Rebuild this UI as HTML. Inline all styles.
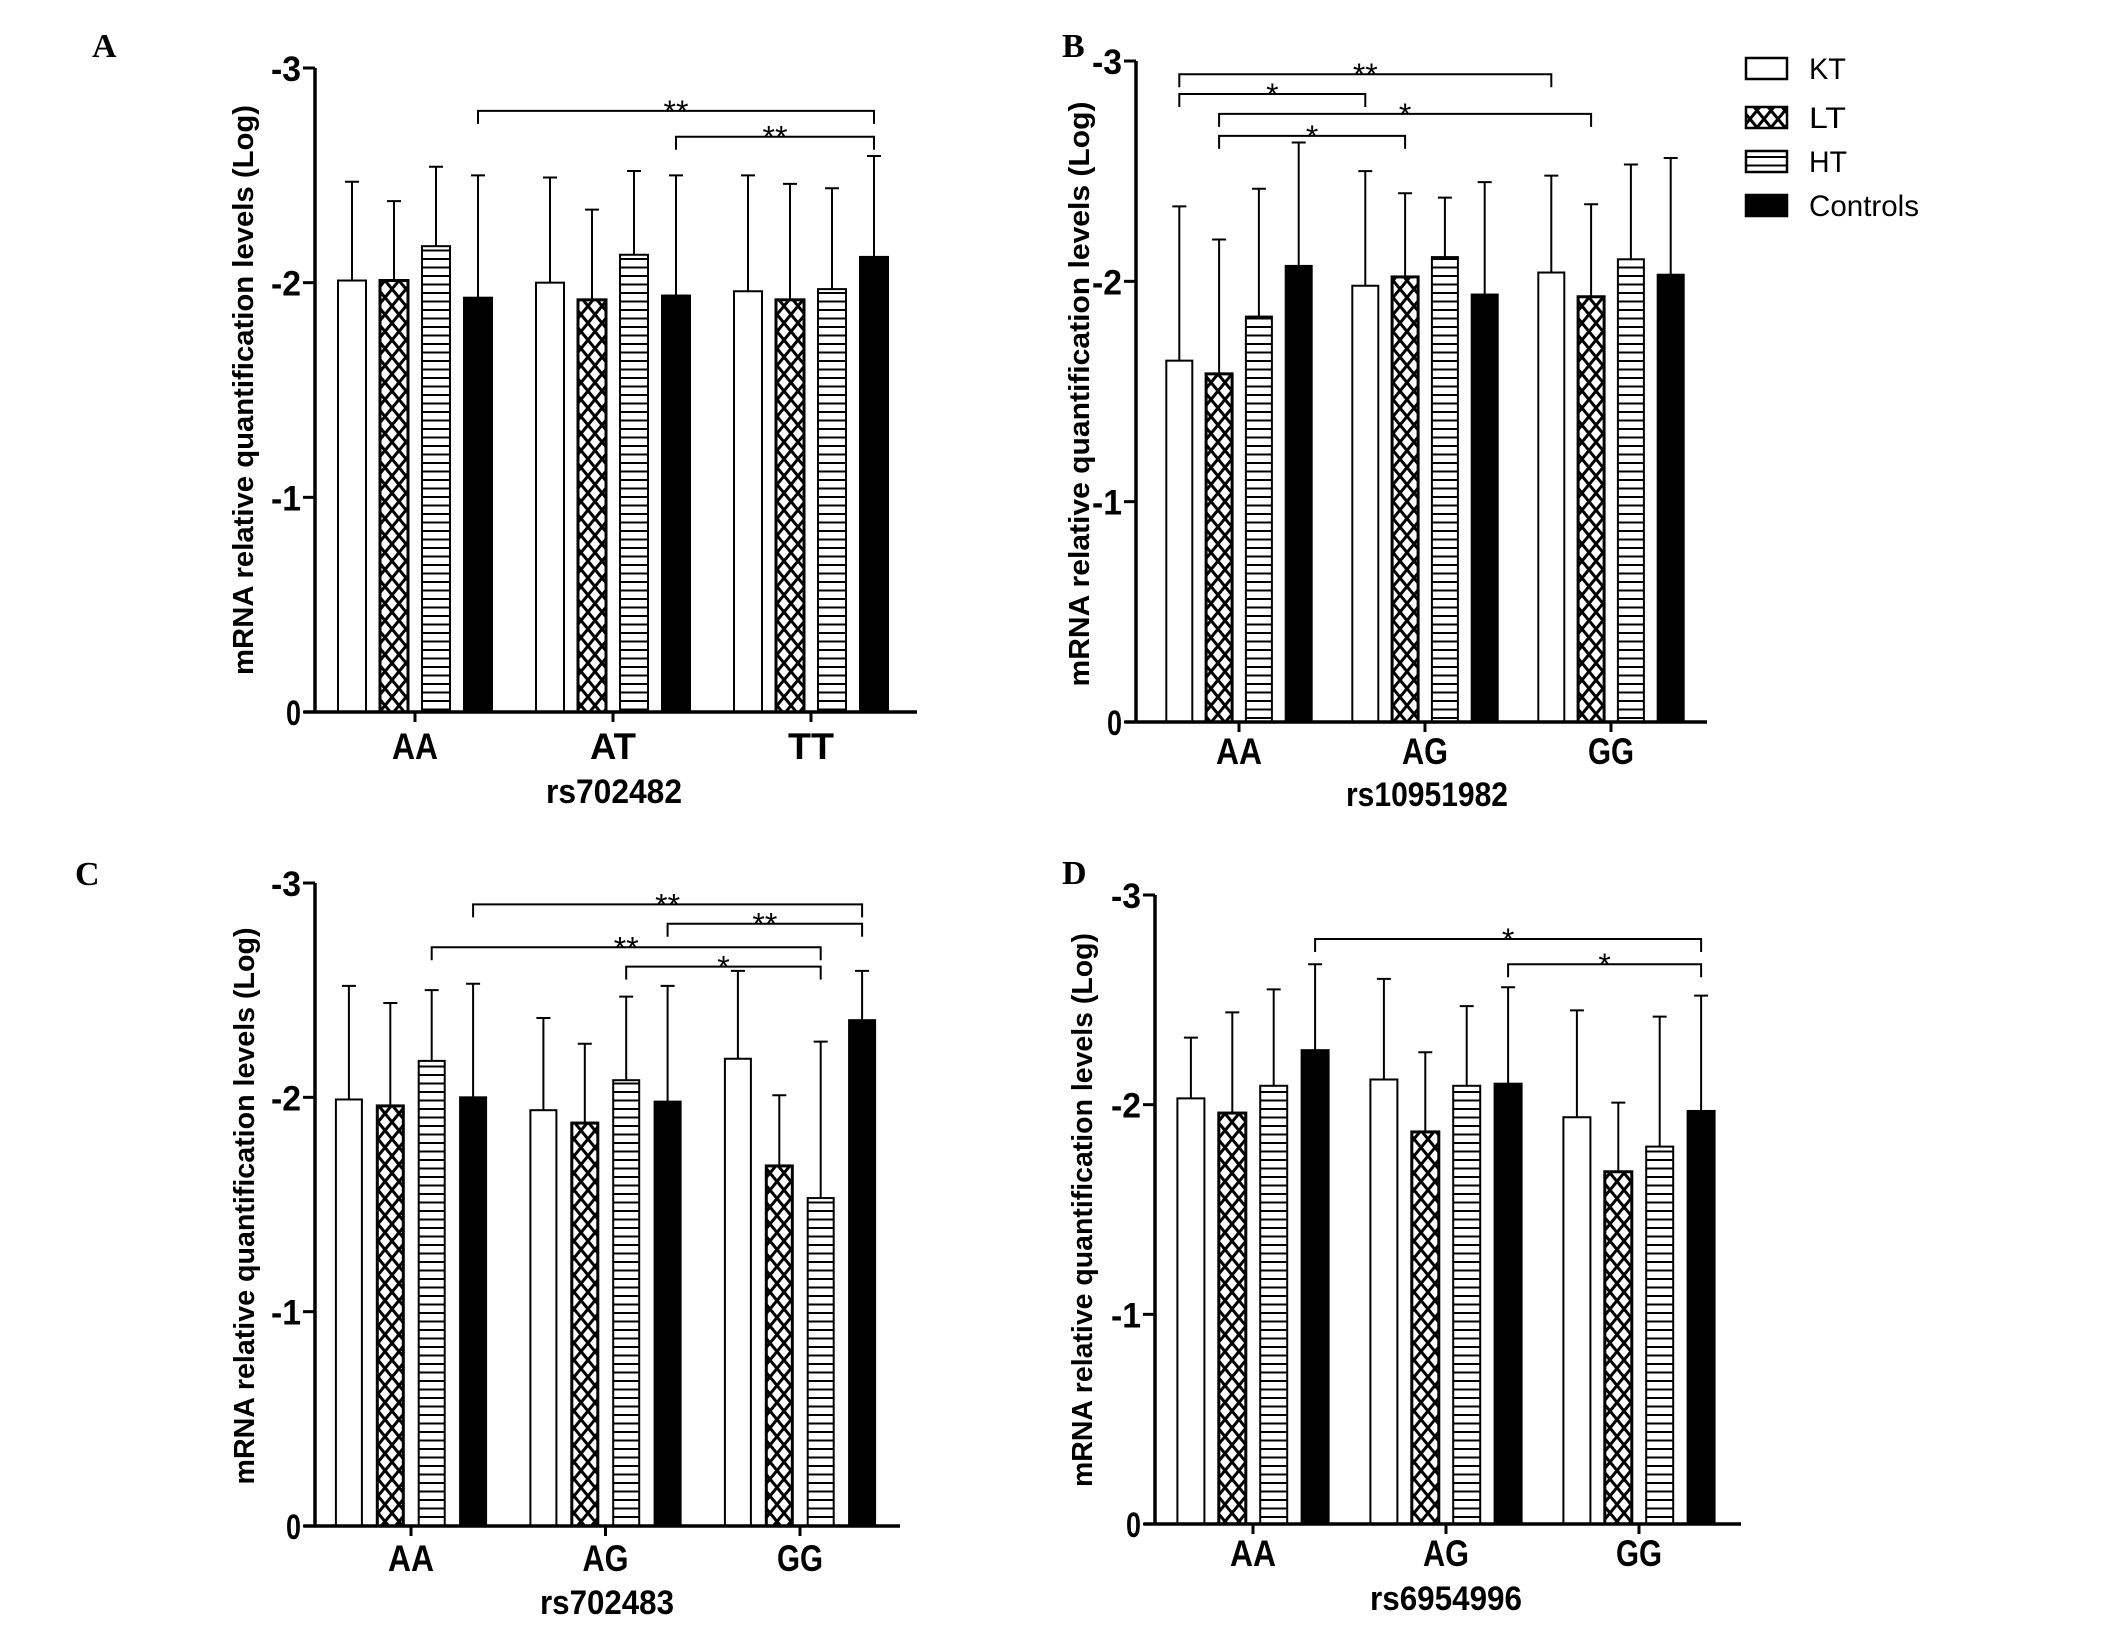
<!DOCTYPE html>
<html><head><meta charset="utf-8"><style>
html,body{margin:0;padding:0;background:#fff;overflow:hidden;}
svg{display:block;}
text{font-family:"Liberation Sans",sans-serif;fill:#000;}
</style></head><body>
<svg id="fig" width="2126" height="1633" viewBox="0 0 2126 1633" xmlns="http://www.w3.org/2000/svg">
<defs>
<pattern id="cross" patternUnits="userSpaceOnUse" width="14" height="17">
<rect width="14" height="17" fill="#fff"/>
<line x1="0" y1="0" x2="14" y2="17" stroke="#000" stroke-width="3"/>
<line x1="14" y1="0" x2="0" y2="17" stroke="#000" stroke-width="3"/>
</pattern>
<pattern id="hstripe" patternUnits="userSpaceOnUse" width="10" height="8.5">
<rect width="10" height="8.5" fill="#fff"/>
<line x1="0" y1="4" x2="10" y2="4" stroke="#000" stroke-width="2"/>
</pattern>
</defs>
<g id="root"></g>
</svg>
<script>
// ---- data ----
const seriesNames = ["KT","LT","HT","Controls"];
const yTicks = [0,1,2,3];
const yTickLabels = ["0","-1","-2","-3"];

const catsA = ["AA","AT","TT"];
const aKT = [2.01,2.00,1.96], aLT = [2.01,1.92,1.92], aHT = [2.17,2.13,1.97], aCtrl = [1.93,1.94,2.12];
const aKTe = [2.47,2.49,2.50], aLTe = [2.38,2.34,2.46], aHTe = [2.54,2.52,2.44], aCtrle = [2.50,2.50,2.59];

const catsB = ["AA","AG","GG"];
const bKT = [1.64,1.98,2.04], bLT = [1.58,2.02,1.93], bHT = [1.84,2.11,2.10], bCtrl = [2.07,1.94,2.03];
const bKTe = [2.34,2.50,2.48], bLTe = [2.19,2.40,2.35], bHTe = [2.42,2.38,2.53], bCtrle = [2.63,2.45,2.56];

const catsC = ["AA","AG","GG"];
const cKT = [1.99,1.94,2.18], cLT = [1.96,1.88,1.68], cHT = [2.17,2.08,1.53], cCtrl = [2.00,1.98,2.36];
const cKTe = [2.52,2.37,2.59], cLTe = [2.44,2.25,2.01], cHTe = [2.50,2.47,2.26], cCtrle = [2.53,2.52,2.59];

const catsD = ["AA","AG","GG"];
const dKT = [2.03,2.12,1.94], dLT = [1.96,1.87,1.68], dHT = [2.09,2.09,1.80], dCtrl = [2.26,2.10,1.97];
const dKTe = [2.32,2.60,2.45], dLTe = [2.44,2.25,2.01], dHTe = [2.55,2.47,2.42], dCtrle = [2.67,2.56,2.52];

// brackets: [fromGroup, fromSeries, toGroup, toSeries, yValue, label]
const bracketsA = [[0,3,2,3,2.80,"**"],[1,3,2,3,2.68,"**"]];
const bracketsB = [[0,0,2,0,2.94,"**"],[0,0,1,0,2.85,"*"],[0,1,2,1,2.76,"*"],[0,1,1,1,2.66,"*"]];
const bracketsC = [[0,3,2,3,2.90,"**"],[1,3,2,3,2.81,"**"],[0,2,2,2,2.70,"**"],[1,2,2,2,2.61,"*"]];
const bracketsD = [[0,3,2,3,2.79,"*"],[1,3,2,3,2.67,"*"]];

const NS="http://www.w3.org/2000/svg";
const root=document.getElementById('root');
function mk(tag,attrs,parent){const e=document.createElementNS(NS,tag);for(const k in attrs)e.setAttribute(k,attrs[k]);(parent||root).appendChild(e);return e;}
const fills=["#fff","url(#cross)","url(#hstripe)","#000"];

function panel(p){
  const g=mk('g',{});
  
  
  const yS=v=>p.y0-(p.y0-p.y3)*v/3;
  const xC=(gi,si)=>p.c0+gi*p.sp+(si-1.5)*p.step;
  const L=mk('text',{x:p.lx,y:p.ly,'font-size':34,'font-weight':'bold',style:'font-family:"Liberation Serif",serif'},g);
  L.textContent=p.id;
  
  
  for(let gi=0;gi<p.cats.length;gi++){
    for(let si=0;si<4;si++){
      const v=p.vals[si][gi], e=p.errs[si][gi];
      const cx=xC(gi,si);
      const ln=mk('path',{d:`M${cx} ${yS(v)}V${yS(e)}M${cx-7} ${yS(e)}H${cx+7}`,stroke:'#000','stroke-width':2,fill:'none'},g);
      
      
      const r=mk('rect',{x:cx-p.bw/2,y:yS(v),width:p.bw,height:p.y0-yS(v),fill:fills[si],stroke:'#000','stroke-width':si==1?3:2},g);
      
      
    }
    const t=mk('text',{x:p.c0+gi*p.sp,y:p.catY,'font-size':37,'font-weight':'bold','text-anchor':'middle',textLength:46,lengthAdjust:'spacingAndGlyphs'},g);
    t.textContent=p.cats[gi];
    
    
    const tk=mk('line',{x1:p.c0+gi*p.sp,x2:p.c0+gi*p.sp,y1:p.y0,y2:p.y0+10,stroke:'#000','stroke-width':3},g);
    
    
  }
  const ax=mk('path',{d:`M${p.ax} ${p.y3}V${p.y0}M${p.ax-11} ${p.y0}H${p.xEnd}`,stroke:'#000','stroke-width':3.5,fill:'none'},g);
  
  
  yTicks.forEach((v,i)=>{
    const tk=mk('line',{x1:p.ax-12,x2:p.ax,y1:yS(v),y2:yS(v),stroke:'#000','stroke-width':3},g);
    
    
    const t=mk('text',{x:p.ax-14,y:yS(v)+13,'font-size':35,'font-weight':'bold','text-anchor':'end',textLength:yTickLabels[i].length*15,lengthAdjust:'spacingAndGlyphs'},g);
    t.textContent=yTickLabels[i];
    
    
  });
  const yt=mk('text',{x:0,y:0,'font-size':29,'font-weight':'bold','text-anchor':'middle','dominant-baseline':'central',textLength:p.ytl,lengthAdjust:'spacingAndGlyphs',transform:`translate(${p.ytx},${p.yty}) rotate(-90)`},g);
  yt.textContent='mRNA relative quantification levels (Log)';
  
  
  const xt=mk('text',{x:p.xtx,y:p.xty,'font-size':34,'font-weight':'bold','text-anchor':'middle',textLength:p.xtl,lengthAdjust:'spacingAndGlyphs'},g);
  xt.textContent=p.xt;
  
  
  p.br.forEach(b=>{
    const x1=xC(b[0],b[1]), x2=xC(b[2],b[3]), y=yS(b[4]);
    const pa=mk('path',{d:`M${x1} ${y+13}V${y}H${x2}V${y+13}`,stroke:'#000','stroke-width':2,fill:'none'},g);
    
    
    const s=mk('text',{x:(x1+x2)/2,y:y+12,'font-size':32,'text-anchor':'middle'},g);
    s.textContent=b[5];
    
    
  });
}

panel({id:'A',lx:92,ly:57,cats:catsA,vals:[aKT,aLT,aHT,aCtrl],errs:[aKTe,aLTe,aHTe,aCtrle],br:bracketsA,
  ax:315,y0:712,y3:68,xEnd:917,c0:415,sp:198,bw:28,step:42,catY:759,ytx:244,yty:390,ytl:570,xtx:614,xty:803,xt:'rs702482',xtl:136});
panel({id:'B',lx:1062,ly:57,cats:catsB,vals:[bKT,bLT,bHT,bCtrl],errs:[bKTe,bLTe,bHTe,bCtrle],br:bracketsB,
  ax:1136,y0:722,y3:61,xEnd:1707,c0:1239,sp:186,bw:26,step:39.8,catY:764,ytx:1080,yty:394,ytl:585,xtx:1427,xty:806,xt:'rs10951982',xtl:162});
panel({id:'C',lx:75,ly:885,cats:catsC,vals:[cKT,cLT,cHT,cCtrl],errs:[cKTe,cLTe,cHTe,cCtrle],br:bracketsC,
  ax:315,y0:1526,y3:883,xEnd:900,c0:411,sp:194.5,bw:26,step:41.4,catY:1571,ytx:245,yty:1206,ytl:557,xtx:607,xty:1614,xt:'rs702483',xtl:134});
panel({id:'D',lx:1062,ly:884,cats:catsD,vals:[dKT,dLT,dHT,dCtrl],errs:[dKTe,dLTe,dHTe,dCtrle],br:bracketsD,
  ax:1155,y0:1524,y3:895,xEnd:1741,c0:1253,sp:193,bw:27,step:41.4,catY:1566,ytx:1083,yty:1210,ytl:554,xtx:1446,xty:1610,xt:'rs6954996',xtl:152});

const lg=mk('g',{});


const legY=[58,107,151,195], legW=[37,37,38,110];
seriesNames.forEach((n,i)=>{
  const r=mk('rect',{x:1746,y:legY[i],width:41,height:21,fill:fills[i],stroke:'#000','stroke-width':2.5},lg);
  
  
  const t=mk('text',{x:1809,y:legY[i]+21,'font-size':30,textLength:legW[i],lengthAdjust:'spacingAndGlyphs'},lg);
  t.textContent=n;
  
  
});
</script>
</body></html>
